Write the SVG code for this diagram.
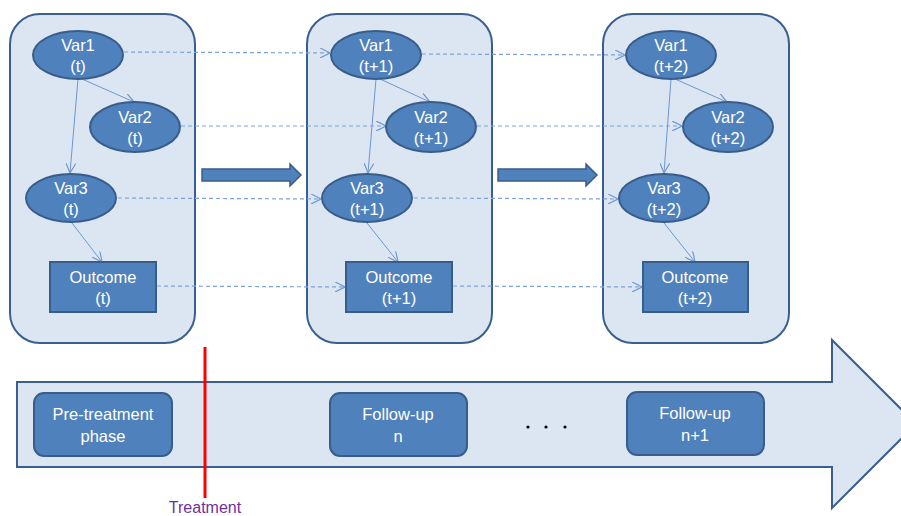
<svg xmlns="http://www.w3.org/2000/svg" width="901" height="516" viewBox="0 0 901 516">
<defs>
<style>
.panel{fill:#DCE6F2;stroke:#3A5F8F;stroke-width:2}
.node{fill:#4F81BD;stroke:#385D8A;stroke-width:2}
.t{font-family:"Liberation Sans",Arial,sans-serif;font-size:16.5px;fill:#FFFFFF;text-anchor:middle}
.solid{fill:none;stroke:#6F97CF;stroke-width:1}
.dash{fill:none;stroke:#7DA3D6;stroke-width:1.2;stroke-dasharray:4 3}
.block{fill:#4F81BD;stroke:#385D8A;stroke-width:1.5}
</style>
<marker id="ah" viewBox="0 0 10 10" refX="10" refY="5" markerWidth="10" markerHeight="10" markerUnits="userSpaceOnUse" orient="auto">
<path d="M0,0 L10,5 L0,10" fill="none" stroke="#6F97CF" stroke-width="1.2"/>
</marker>
</defs>
<rect width="901" height="516" fill="#FFFFFF"/>

<!-- timeline arrow -->
<g id="timeline">
<path d="M17,382 L832,382 L832,340 L916,424 L832,508 L832,467 L17,467 Z" fill="#DCE6F2" stroke="#3A5F8F" stroke-width="2"/>
</g>

<!-- panels -->
<g id="panel1"><rect class="panel" x="10" y="14" width="185" height="329" rx="30"/></g>
<g id="panel2"><rect class="panel" x="307" y="14" width="185" height="329" rx="30"/></g>
<g id="panel3"><rect class="panel" x="603" y="14" width="186" height="329" rx="30"/></g>

<!-- block arrows between panels -->
<g id="step1"><path class="block" d="M202,169 L290,169 L290,164 L301,175 L290,186 L290,181 L202,181 Z"/></g>
<g id="step2"><path class="block" d="M498,169 L586,169 L586,164 L597,175 L586,186 L586,181 L498,181 Z"/></g>

<!-- connectors -->
<g id="connectors">
<path class="solid" d="M78,79 L70,173" marker-end="url(#ah)"/>
<path class="solid" d="M82,79 L134,102" marker-end="url(#ah)"/>
<path class="solid" d="M72,223 L102,262" marker-end="url(#ah)"/>
<path class="solid" d="M376,79 L368,173" marker-end="url(#ah)"/>
<path class="solid" d="M380,79 L430,102" marker-end="url(#ah)"/>
<path class="solid" d="M367,223 L398,262" marker-end="url(#ah)"/>
<path class="solid" d="M671,79 L664,173" marker-end="url(#ah)"/>
<path class="solid" d="M675,79 L727,102" marker-end="url(#ah)"/>
<path class="solid" d="M664,223 L695,262" marker-end="url(#ah)"/>

<path class="dash" d="M124,52 L330,53" marker-end="url(#ah)"/>
<path class="dash" d="M181,126 L386,126" marker-end="url(#ah)"/>
<path class="dash" d="M118,198 L321,199" marker-end="url(#ah)"/>
<path class="dash" d="M157,286 L345,287" marker-end="url(#ah)"/>
<path class="dash" d="M422,54 L625,55" marker-end="url(#ah)"/>
<path class="dash" d="M477,126 L682,126" marker-end="url(#ah)"/>
<path class="dash" d="M414,198 L618,199" marker-end="url(#ah)"/>
<path class="dash" d="M453,286 L642,287" marker-end="url(#ah)"/>
</g>

<!-- panel 1 nodes -->
<g id="var1_t"><ellipse class="node" cx="78" cy="55" rx="45" ry="24"/><text class="t" x="78" y="51">Var1</text><text class="t" x="78" y="72">(t)</text></g>
<g id="var2_t"><ellipse class="node" cx="135" cy="127" rx="45" ry="25"/><text class="t" x="135" y="123">Var2</text><text class="t" x="135" y="144">(t)</text></g>
<g id="var3_t"><ellipse class="node" cx="71" cy="198" rx="45" ry="24"/><text class="t" x="71" y="194">Var3</text><text class="t" x="71" y="215">(t)</text></g>
<g id="outcome_t"><rect class="node" x="50" y="262" width="106" height="50"/><text class="t" x="103" y="283">Outcome</text><text class="t" x="103" y="304">(t)</text></g>

<!-- panel 2 nodes -->
<g id="var1_t1"><ellipse class="node" cx="376" cy="55" rx="45" ry="24"/><text class="t" x="376" y="51">Var1</text><text class="t" x="376" y="72">(t+1)</text></g>
<g id="var2_t1"><ellipse class="node" cx="431" cy="127" rx="45" ry="25"/><text class="t" x="431" y="123">Var2</text><text class="t" x="431" y="144">(t+1)</text></g>
<g id="var3_t1"><ellipse class="node" cx="367" cy="198" rx="45" ry="24"/><text class="t" x="367" y="194">Var3</text><text class="t" x="367" y="215">(t+1)</text></g>
<g id="outcome_t1"><rect class="node" x="346" y="262" width="106" height="50"/><text class="t" x="399" y="283">Outcome</text><text class="t" x="399" y="304">(t+1)</text></g>

<!-- panel 3 nodes -->
<g id="var1_t2"><ellipse class="node" cx="671" cy="55" rx="45" ry="24"/><text class="t" x="671" y="51">Var1</text><text class="t" x="671" y="72">(t+2)</text></g>
<g id="var2_t2"><ellipse class="node" cx="728" cy="127" rx="45" ry="25"/><text class="t" x="728" y="123">Var2</text><text class="t" x="728" y="144">(t+2)</text></g>
<g id="var3_t2"><ellipse class="node" cx="664" cy="198" rx="45" ry="24"/><text class="t" x="664" y="194">Var3</text><text class="t" x="664" y="215">(t+2)</text></g>
<g id="outcome_t2"><rect class="node" x="643" y="262" width="105" height="50"/><text class="t" x="695" y="283">Outcome</text><text class="t" x="695" y="304">(t+2)</text></g>

<!-- timeline boxes -->
<g id="pretreatment"><rect class="node" x="34" y="393" width="138" height="63" rx="10"/><text class="t" x="103" y="420">Pre-treatment</text><text class="t" x="103" y="442">phase</text></g>
<g id="followup_n"><rect class="node" x="330" y="393" width="137" height="63" rx="10"/><text class="t" x="398" y="420">Follow-up</text><text class="t" x="398" y="442">n</text></g>
<g id="followup_n1"><rect class="node" x="627" y="392" width="137" height="63" rx="10"/><text class="t" x="695" y="419">Follow-up</text><text class="t" x="695" y="441">n+1</text></g>
<g id="dots">
<circle cx="528" cy="427" r="1.6" fill="#000"/><circle cx="546" cy="427" r="1.6" fill="#000"/><circle cx="565" cy="427" r="1.6" fill="#000"/>
</g>

<!-- treatment marker -->
<g id="treatment">
<line x1="205" y1="347" x2="205" y2="498" stroke="#FF0000" stroke-width="3"/>
<text x="205" y="513" font-family="'Liberation Sans',Arial,sans-serif" font-size="16" fill="#7030A0" text-anchor="middle">Treatment</text>
</g>
</svg>
